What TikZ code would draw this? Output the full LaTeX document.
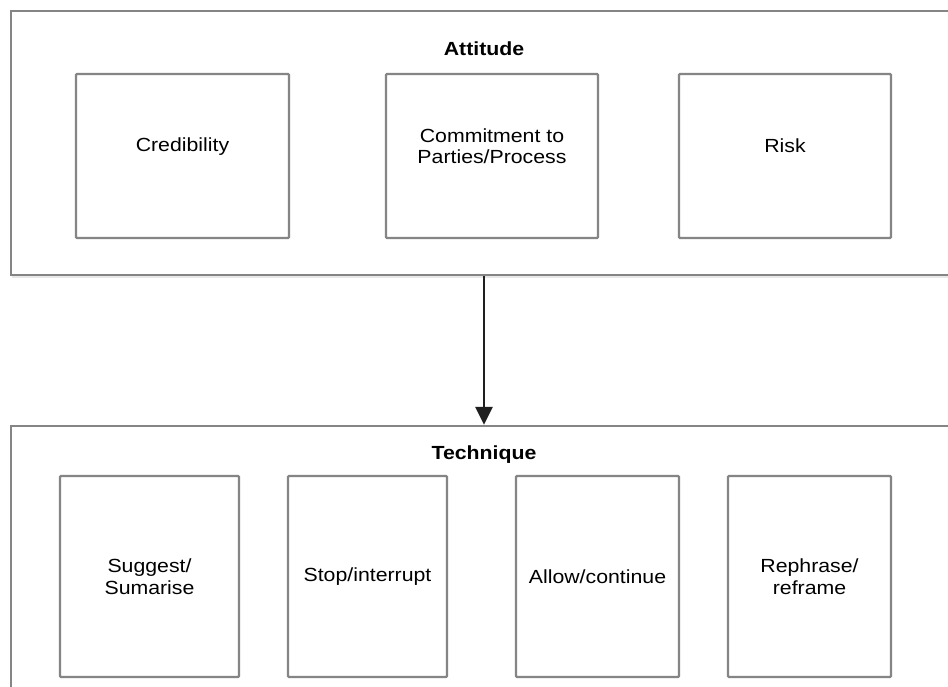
\documentclass[tikz,border=0pt]{standalone}
\usepackage{fontspec}
\setmainfont[FakeStretch=1.12]{Liberation Sans}
\usetikzlibrary{arrows.meta,shadows}
\definecolor{framegray}{HTML}{858585}
\begin{document}
\begin{tikzpicture}[x=1pt,y=-1pt,
  outerbox/.style={draw=framegray,line width=2.4pt,fill=white,inner sep=0pt,
    drop shadow={opacity=0.18,shadow xshift=1pt,shadow yshift=-2.5pt}},
  innerbox/.style={draw=framegray,line width=2.4pt,fill=white,rounded corners=1pt,inner sep=0pt},
  boxlabel/.style={align=center,font=\fontsize{19}{21.5}\selectfont,text=black},
  titlelabel/.style={font=\fontsize{19}{21.5}\selectfont\bfseries,text=black},
  flow/.style={draw=black!88,line width=2.8pt,-{Triangle[length=18pt,width=17pt]}}]
\useasboundingbox (0,0) rectangle (948,686);
\clip (0,0) rectangle (948,686);
\fill[white] (0,0) rectangle (948,686);

% upper group: attitude
\node[outerbox,minimum width=950pt,minimum height=264pt] (att) at (486,143) {};
\node[titlelabel] (atttitle) at (484,49) {Attitude};
\node[innerbox,minimum width=213pt,minimum height=164pt] (cred) at (182.5,156) {};
\node[innerbox,minimum width=212pt,minimum height=164pt] (commit) at (492,156) {};
\node[innerbox,minimum width=212pt,minimum height=164pt] (risk) at (785,156) {};
\node[boxlabel] (credtxt) at ([yshift=9pt]cred.center) {Credibility};
\node[boxlabel] (committxt) at ([yshift=10pt]commit.center) {Commitment to\\Parties/Process};
\node[boxlabel] (risktxt) at ([yshift=10pt]risk.center) {Risk};

% lower group: technique
\node[outerbox,minimum width=950pt,minimum height=274pt] (tech) at (486,563) {};
\node[titlelabel] (techtitle) at (484,455) {Technique};
\node[innerbox,minimum width=179pt,minimum height=201pt] (suggest) at (149.5,576.5) {};
\node[innerbox,minimum width=159pt,minimum height=201pt] (stop) at (367.5,576.5) {};
\node[innerbox,minimum width=163pt,minimum height=201pt] (allow) at (597.5,576.5) {};
\node[innerbox,minimum width=163pt,minimum height=201pt] (rephrase) at (809.5,576.5) {};
\node[boxlabel] (suggesttxt) at (suggest.center) {Suggest/\\Sumarise};
\node[boxlabel] (stoptxt) at (stop.center) {Stop/interrupt};
\node[boxlabel] (allowtxt) at (allow.center) {Allow/continue};
\node[boxlabel] (rephrasetxt) at (rephrase.center) {Rephrase/\\reframe};

% connector between the groups
\draw[flow] (att.south -| atttitle) -- (tech.north -| atttitle);
\end{tikzpicture}
\end{document}
